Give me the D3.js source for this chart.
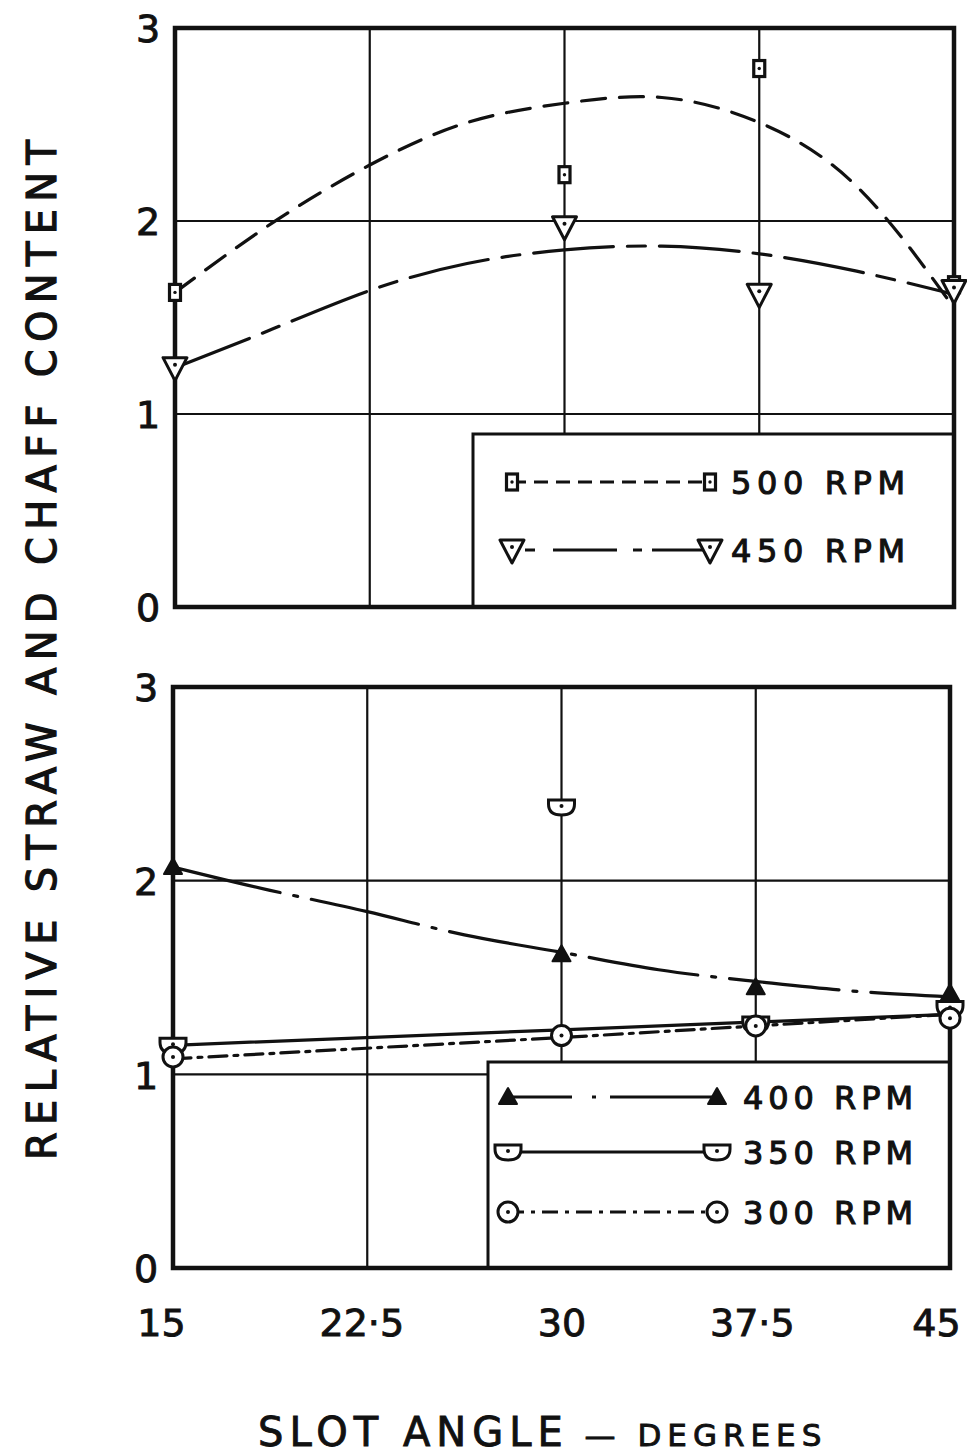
<!DOCTYPE html>
<html>
<head>
<meta charset="utf-8">
<script src="https://cdn.jsdelivr.net/npm/d3@7"></script>
<style>
  body { margin: 0; background: #fff; }
  text { font-family: "DejaVu Sans", sans-serif; fill: #111; stroke: #111; stroke-width: 0.9px; }
</style>
</head>
<body>
<svg id="chart" width="967" height="1454"></svg>
<script>
// ---- data ----
var slotAngles = [15, 22.5, 30, 37.5, 45];
var angleLabels = ['15', '22·5', '30', '37·5', '45'];
var contentTicks = [0, 1, 2, 3];

var pointAngles = [15, 30, 37.5, 45];
var fitAngles = [15, 18.75, 22.5, 26.25, 30, 33.75, 37.5, 41.25, 45];
var lineAngles = [15, 30, 45];

// top panel
var rpm500 = [1.63, 2.24, 2.79, 1.67];
var rpm450 = [1.24, 1.97, 1.62, 1.64];
var fit500 = [1.63, 1.99, 2.29, 2.51, 2.61, 2.64, 2.51, 2.18, 1.55];
var fit450 = [1.24, 1.44, 1.64, 1.78, 1.85, 1.87, 1.83, 1.74, 1.62];

// bottom panel
var rpm400 = [2.07, 1.62, 1.45, 1.42];
var rpm350 = [1.15, 2.38, 1.26, 1.34];
var rpm300 = [1.09, 1.20, 1.25, 1.29];
var fit400 = [2.07, 1.95, 1.84, 1.72, 1.63, 1.54, 1.48, 1.43, 1.40];
var fit350 = [1.15, 1.23, 1.31];
var fit300 = [1.08, 1.19, 1.31];

var svg = d3.select('#chart');

var zip = function(xs, ys) {
  return xs.map(function(x, i) { return {x: x, y: ys[i]}; });
};

// ---- marker shapes ----
var markers = {
  square: function(g) {
    g.append('rect').attr('x', -5.5).attr('y', -8).attr('width', 11).attr('height', 16)
      .attr('fill', '#fff').attr('stroke', '#111').attr('stroke-width', 3.2);
    g.append('circle').attr('r', 1.7).attr('fill', '#111');
  },
  triDown: function(g) {
    g.append('path').attr('d', 'M-12,-10L12,-10L0,13Z')
      .attr('fill', '#fff').attr('stroke', '#111').attr('stroke-width', 3)
      .attr('stroke-linejoin', 'round');
    g.append('circle').attr('cy', -3).attr('r', 2).attr('fill', '#111');
  },
  triUp: function(g) {
    g.append('path').attr('d', 'M-9,7L9,7L0,-9Z')
      .attr('fill', '#111').attr('stroke', '#111').attr('stroke-width', 2)
      .attr('stroke-linejoin', 'round');
  },
  halfCircle: function(g) {
    g.append('path').attr('d', 'M-13,-7H13V-3Q13,8 0,8Q-13,8 -13,-3Z')
      .attr('fill', '#fff').attr('stroke', '#111').attr('stroke-width', 3);
    g.append('circle').attr('cy', -1).attr('r', 2).attr('fill', '#111');
  },
  circle: function(g) {
    g.append('circle').attr('r', 10)
      .attr('fill', '#fff').attr('stroke', '#111').attr('stroke-width', 3);
    g.append('circle').attr('r', 2).attr('fill', '#111');
  }
};

var putMarker = function(layer, kind, x, y) {
  var g = layer.append('g').attr('transform', 'translate(' + x + ',' + y + ')');
  markers[kind](g);
};

// ---- one panel ----
var drawPanel = function(p) {
  var x = d3.scaleLinear().domain([15, 45]).range([p.left, p.right]);
  var y = d3.scaleLinear().domain([0, 3]).range([p.bottom, p.top]);
  var g = svg.append('g');

  // grid
  g.selectAll('line.vgrid')
      .data(slotAngles.slice(1, -1))
      .enter().append('line')
      .attr('class', 'vgrid')
      .attr('x1', x).attr('x2', x)
      .attr('y1', y(3)).attr('y2', y(0))
      .attr('stroke', '#111').attr('stroke-width', 2.2);

  g.selectAll('line.hgrid')
      .data(contentTicks.slice(1, -1))
      .enter().append('line')
      .attr('class', 'hgrid')
      .attr('x1', x(15)).attr('x2', x(45))
      .attr('y1', y).attr('y2', y)
      .attr('stroke', '#111').attr('stroke-width', 2.2);

  // legend box (hides grid behind it)
  var lg = p.legend;
  g.append('rect')
      .attr('x', lg.x).attr('y', lg.y)
      .attr('width', x(45) - lg.x).attr('height', y(0) - lg.y)
      .attr('fill', '#fff').attr('stroke', '#111').attr('stroke-width', 3);

  // frame
  g.append('rect')
      .attr('x', x(15)).attr('y', y(3))
      .attr('width', x(45) - x(15)).attr('height', y(0) - y(3))
      .attr('fill', 'none').attr('stroke', '#111').attr('stroke-width', 4.5);

  // y axis labels
  var yAxis = d3.axisLeft(y).tickValues(contentTicks).tickSize(0).tickFormat(d3.format('d'));
  var ya = g.append('g').attr('transform', 'translate(' + x(15) + ',0)').call(yAxis);
  ya.select('.domain').remove();
  ya.selectAll('text')
      .attr('x', -27).attr('dy', '0.36em')
      .attr('text-anchor', 'middle')
      .style('font-size', '38px')
      .style('font-family', '"DejaVu Sans", sans-serif')
      .attr('fill', '#111');

  // fitted lines
  p.series.forEach(function(s) {
    var line = d3.line()
        .x(function(d) { return x(d.x); })
        .y(function(d) { return y(d.y); })
        .curve(s.fitX.length > 3 ? d3.curveNatural : d3.curveLinear);
    g.append('path')
        .datum(zip(s.fitX, s.fitY))
        .attr('d', line)
        .attr('fill', 'none').attr('stroke', '#111').attr('stroke-width', 3.2)
        .attr('stroke-dasharray', s.dash)
        .attr('stroke-linecap', 'round');
  });

  // measured points
  p.series.forEach(function(s) {
    zip(pointAngles, s.values).forEach(function(d) {
      putMarker(g, s.marker, x(d.x), y(d.y));
    });
  });

  // legend entries
  p.series.forEach(function(s, i) {
    var ry = lg.rows[i];
    g.append('line')
        .attr('x1', lg.x1).attr('x2', lg.x2)
        .attr('y1', ry).attr('y2', ry)
        .attr('stroke', '#111').attr('stroke-width', 3)
        .attr('stroke-dasharray', s.legendDash);
    putMarker(g, s.marker, lg.x1, ry);
    putMarker(g, s.marker, lg.x2, ry);
    g.append('text')
        .attr('x', lg.tx).attr('y', ry).attr('dy', '0.36em')
        .attr('textLength', lg.tw).attr('lengthAdjust', 'spacing')
        .style('font-size', '32px')
        .style('stroke-width', '1.1px')
        .text(s.name);
  });

  return x;
};

drawPanel({
  left: 175, right: 954, top: 28, bottom: 607,
  legend: {x: 473, y: 434, x1: 512, x2: 710, tx: 731, tw: 174, rows: [482, 550]},
  series: [
    {name: '500 RPM', values: rpm500, fitX: fitAngles, fitY: fit500, marker: 'square',
      dash: '24,14', legendDash: '14,8'},
    {name: '450 RPM', values: rpm450, fitX: fitAngles, fitY: fit450, marker: 'triDown',
      dash: '80,14,18,14', legendDash: '0,13,10,18,64,16,9,10,200'}
  ]
});

var xBottom = drawPanel({
  left: 173, right: 950, top: 687, bottom: 1268,
  legend: {x: 488, y: 1062, x1: 508, x2: 717, tx: 743, tw: 170, rows: [1097, 1152, 1212]},
  series: [
    {name: '400 RPM', values: rpm400, fitX: fitAngles, fitY: fit400, marker: 'triUp',
      dash: '110,14,4,14', legendDash: '64,20,4,14,200'},
    {name: '350 RPM', values: rpm350, fitX: lineAngles, fitY: fit350, marker: 'halfCircle',
      dash: null, legendDash: null},
    {name: '300 RPM', values: rpm300, fitX: lineAngles, fitY: fit300, marker: 'circle',
      dash: '18,7,4,7', legendDash: '16,7,4,7'}
  ]
});

// x axis labels
var labelShift = [-12, -6, 0, -4, -14];
var xAxis = d3.axisBottom(xBottom).tickValues(slotAngles).tickSize(0)
    .tickFormat(function(d, i) { return angleLabels[i]; });
var xa = svg.append('g').attr('transform', 'translate(0,1268)').call(xAxis);
xa.select('.domain').remove();
xa.selectAll('text')
    .attr('y', 54).attr('dy', '0.36em')
    .attr('dx', function(d, i) { return labelShift[i]; })
    .style('font-size', '38px')
    .style('font-family', '"DejaVu Sans", sans-serif')
    .attr('fill', '#111');

// axis titles
var xt = svg.append('text').attr('x', 258).attr('y', 1446);
xt.append('tspan').style('font-size', '40px').style('letter-spacing', '6px').text('SLOT ANGLE');
xt.append('tspan').style('font-size', '31px').style('letter-spacing', '6px').text(' — DEGREES');

svg.append('text')
    .attr('transform', 'translate(56,650) rotate(-90)')
    .attr('text-anchor', 'middle')
    .attr('textLength', 1020).attr('lengthAdjust', 'spacing')
    .style('font-size', '40px')
    .style('stroke-width', '1.2px')
    .text('RELATIVE STRAW AND CHAFF CONTENT');
</script>
</body>
</html>
